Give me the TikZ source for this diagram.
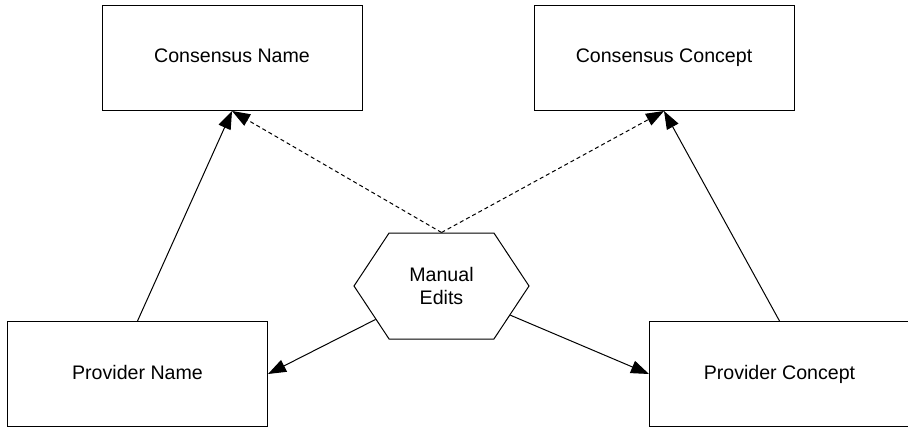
\documentclass[tikz,border=0pt]{standalone}
\usepackage{fontspec}
\setmainfont{Liberation Sans}
\usetikzlibrary{positioning,arrows.meta,shapes.symbols}

\begin{document}
\begin{tikzpicture}[
  x=0.5pt, y=0.5pt, line width=0.5pt,
  font=\fontsize{9.8}{11.3}\selectfont, >={Triangle[length=9pt,width=6.5pt]},
  box/.style={draw,minimum width=130pt,minimum height=52.5pt,inner sep=0pt,
    text height=7pt,text depth=2pt},
  hexa/.style={draw,signal,signal to=east and west,signal pointer angle=113,
    minimum width=87.5pt,minimum height=53pt,inner sep=0pt,align=center},
  manual/.style={->,dash pattern=on 2pt off 1.5pt}
]
\useasboundingbox (0,0) rectangle (908,-427);
\node[box] at (232,-58) (cn) {Consensus Name};
\node[box,right=85.5pt of cn] (cc) {Consensus Concept};
\node[box] at (137.5,-374) (pn) {Provider Name};
\node[box,right=190.5pt of pn] (pc) {Provider Concept};
\node[hexa] at (441.5,-286) (me) {Manual\\Edits};
% provider -> consensus
\draw[->] (pn.north) -- (cn.south);
\draw[->] (pc.north) -- (cc.south);
% manual edits
\draw[manual] (me.north) -- (cn.south);
\draw[manual] (me.north) -- (cc.south);
\draw[->] (me) -- (pn.east);
\draw[->] (me) -- (pc.west);
\end{tikzpicture}
\end{document}
